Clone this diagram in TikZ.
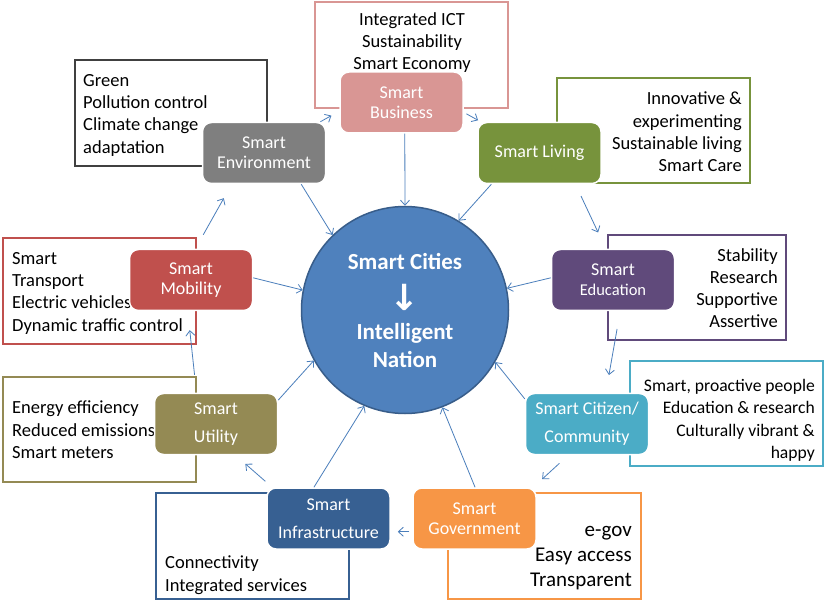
\documentclass[tikz,border=0pt]{standalone}
\usepackage{fontspec}
\setmainfont{Carlito}
\newfontfamily\arrowfont{DejaVu Sans}
\usetikzlibrary{arrows.meta}

\definecolor{cityblue}{HTML}{4F81BD}
\definecolor{cityedge}{HTML}{385D8A}
\definecolor{linkblue}{HTML}{4A7EBB}
\definecolor{buspink}{HTML}{D99694}
\definecolor{envgray}{HTML}{7F7F7F}
\definecolor{envframe}{HTML}{404040}
\definecolor{livgreen}{HTML}{77933C}
\definecolor{mobred}{HTML}{C0504D}
\definecolor{edupurple}{HTML}{604A7B}
\definecolor{utiolive}{HTML}{948A54}
\definecolor{citcyan}{HTML}{4BACC6}
\definecolor{infblue}{HTML}{376092}
\definecolor{govorange}{HTML}{F79646}

\begin{document}
\begin{tikzpicture}[x=1pt, y=-1pt,
    tile/.style={rectangle, rounded corners=9pt, draw=white, line width=1.5pt,
        minimum width=123pt, minimum height=61pt, inner sep=0pt,
        text=white, align=center, font=\fontsize{18}{20}\selectfont},
    panel/.style={line width=2.2pt},
    note/.style={inner sep=0pt, font=\fontsize{18.5}{22.3}\selectfont},
    link/.style={draw=linkblue, line width=0.8pt,
        -{Straight Barb[length=5pt,width=9pt]}}]
    \fill[white] (0,0) rectangle (830,609);
    \useasboundingbox (0,0) rectangle (830,609);

    % outlines around each theme
    \draw[panel, buspink] (315,2) rectangle (508,108);
    \draw[panel, envframe] (75,60) rectangle (267,166);
    \draw[panel, livgreen] (557,78) rectangle (750,183);
    \draw[panel, mobred] (3,238) rectangle (196,344);
    \draw[panel, edupurple] (608,235) rectangle (786,340);
    \draw[panel, utiolive] (3,377) rectangle (196,482);
    \draw[panel, citcyan] (630,361) rectangle (823,466);
    \draw[panel, infblue] (156,493) rectangle (349,599);
    \draw[panel, govorange] (448,493) rectangle (641,599);

    % notes
    \node[note, anchor=north, align=center] (busnote) at (412,12) {Integrated ICT\\Sustainability\\Smart Economy};
    \node[note, anchor=north west, align=left] (envnote) at (83,74) {Green\\Pollution control\\Climate change\\adaptation};
    \node[note, anchor=north east, align=right] (livnote) at (742,92) {Innovative \&\\experimenting\\Sustainable living\\Smart Care};
    \node[note, anchor=north west, align=left] (mobnote) at (12,252) {Smart\\Transport\\Electric vehicles\\Dynamic traffic control};
    \node[note, anchor=north east, align=right] (edunote) at (778,248) {Stability\\Research\\Supportive\\Assertive};
    \node[note, anchor=north west, align=left] (utinote) at (12,401) {Energy efficiency\\Reduced emissions\\Smart meters};
    \node[note, anchor=north east, align=right, font=\fontsize{17.6}{22.3}\selectfont] (citnote) at (815,379) {Smart, proactive people\\Education \& research\\Culturally vibrant \&\\happy};
    \node[note, anchor=north west, align=left] (infnote) at (165,556) {Connectivity\\Integrated services};
    \node[note, anchor=north east, align=right, font=\fontsize{21}{25}\selectfont] (govnote) at (632,526) {e-gov\\Easy access\\Transparent};

    % themes
    \node[tile, fill=buspink] (bus) at (401.5,102.5) {Smart\\Business};
    \node[tile, fill=envgray] (env) at (264,153) {Smart\\Environment};
    \node[tile, fill=livgreen] (liv) at (539.5,153) {Smart Living};
    \node[tile, fill=mobred] (mob) at (191,280) {Smart\\Mobility};
    \node[tile, fill=edupurple] (edu) at (613,280) {Smart\\{\fontsize{16.5}{18}\selectfont Education}};
    \node[tile, fill=utiolive] (uti) at (216,424) {Smart\\[8pt]Utility};
    \node[tile, fill=citcyan] (cit) at (587,424) {Smart Citizen/\\[8pt]Community};
    \node[tile, fill=infblue] (inf) at (328.5,518.5) {Smart\\[8pt]Infrastructure};
    \node[tile, fill=govorange] (gov) at (474.5,518.5) {Smart\\Government};

    \node[circle, fill=cityblue, draw=cityedge, line width=1.5pt, minimum size=207pt,
        inner sep=0pt, text=white, align=center,
        font=\bfseries\fontsize{23}{28}\selectfont] (city) at (405,310)
        {Smart Cities\\[13pt]{\arrowfont\fontsize{36}{30}\selectfont ↓}\\[1pt]Intelligent\\Nation};

    % into the centre
    \draw[link] (bus.-84) -- (city.90);
    \draw[link] (env.-40) -- (city.134);
    \draw[link] (liv.213) -- (city.59);
    \draw[link] (mob.2) -- (city.169);
    \draw[link] (edu.178) -- (city.12);
    \draw[link] (uti.21) -- (city.209);
    \draw[link] (cit.158) -- (city.330);
    \draw[link] (gov.89) -- (city.291);
    \draw[link] (inf.115) -- (city.247);

    % round the ring
    \draw[link, shorten <=16pt, shorten >=16pt] (mob.82) -- (env.224);
    \draw[link, shorten >=9pt] (env.29) -- (bus.188);
    \draw[link, shorten <=3pt, shorten >=3pt] (bus.-9) -- (liv.152);
    \draw[link, shorten <=13pt, shorten >=18pt] (liv.-41) -- (edu.103);
    \draw[link, shorten <=18pt, shorten >=18pt] (edu.-77) -- (cit.59);
    \draw[link, shorten <=12pt, shorten >=12pt] (cit.239) -- (gov.28);
    \draw[link, shorten <=3pt, shorten >=7pt] (gov.192) -- (inf.-12);
    \draw[link, shorten <=9pt, shorten >=13pt] (inf.151) -- (uti.-58);
    \draw[link, shorten <=18pt, shorten >=19pt] (uti.122) -- (mob.-96);
\end{tikzpicture}
\end{document}
